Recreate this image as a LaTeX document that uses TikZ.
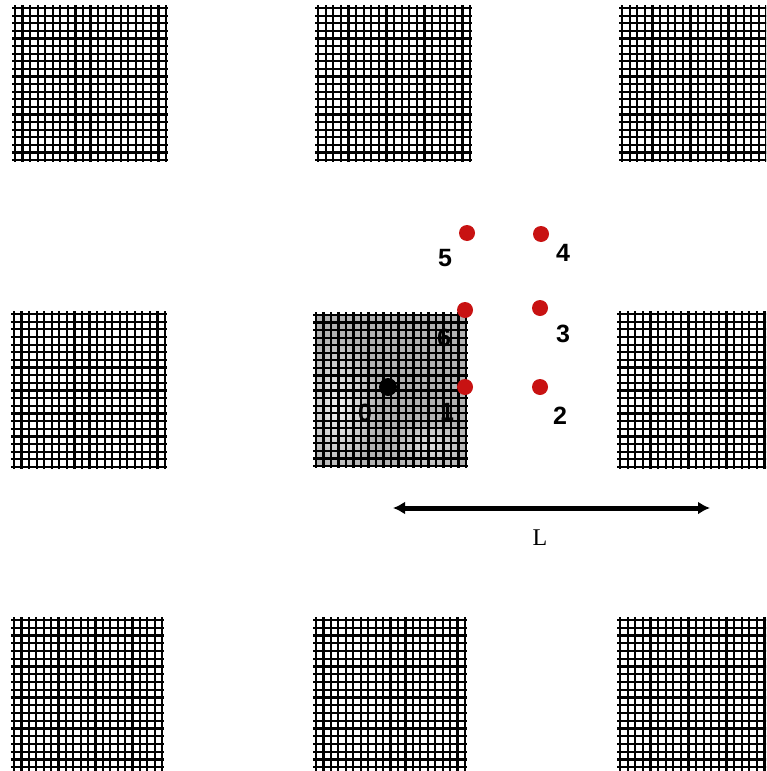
\documentclass[tikz,border=0pt]{standalone}
\usepackage{fontspec}
\setmainfont{Liberation Sans}
\newfontfamily\serifL{Liberation Serif}
\usetikzlibrary{arrows.meta}
\definecolor{dotred}{RGB}{200,18,18}
\tikzset{
  gridline/.style={line width=2.2pt, black},
  reddot/.style={circle, fill=dotred, inner sep=0pt, minimum size=16pt},
  blackdot/.style={circle, fill=black, inner sep=0pt, minimum size=18pt},
  numlabel/.style={font=\fontsize{25}{25}\selectfont\bfseries, inner sep=0pt, text=black},
}
\newcommand{\gridsq}[4]{%
  \foreach \i in {0,...,20} {
    \draw[gridline] ({#1+\i*(#3-#1)/20}, #2-3) -- ({#1+\i*(#3-#1)/20}, #4+2);
    \draw[gridline] (#1-3, {#2+\i*(#4-#2)/20}) -- (#3+2, {#2+\i*(#4-#2)/20});
  }%
}
\begin{document}
\begin{tikzpicture}[x=1pt,y=-1pt]
\useasboundingbox (0,0) rectangle (766,771);
\fill[white] (0,0) rectangle (766,771);
\begin{scope}
\clip (0,0) rectangle (766,771);
% shaded centre square background
\fill[gray!60] (316,315) rectangle (466,466);
\begin{scope}
\clip (316,315) rectangle (466,466);
\shade[inner color=gray!10, outer color=gray!60] (338,405) ellipse [x radius=40, y radius=70];
\shade[inner color=gray!25, outer color=gray!60] (430,445) ellipse [x radius=40, y radius=28];
\end{scope}
\gridsq{15}{8}{166}{160}
\gridsq{318}{8}{470}{160}
\gridsq{622}{8}{774}{160}
\gridsq{14}{314}{165}{467}
\gridsq{316}{315}{466}{466}
\gridsq{620}{314}{772}{467}
\gridsq{14}{620}{162}{775}
\gridsq{316}{620}{465}{775}
\gridsq{620}{620}{772}{775}
\end{scope}
% points
\node[blackdot] (p0) at (388,387) {};
\node[reddot] (p1) at (465,387) {};
\node[reddot] (p2) at (540,387) {};
\node[reddot] (p3) at (540,308) {};
\node[reddot] (p4) at (541,234) {};
\node[reddot] (p5) at (467,233) {};
\node[reddot] (p6) at (465,310) {};
% labels
\node[numlabel] (l0) at (365,413) {0};
\node[numlabel] (l1) at (447,412) {1};
\node[numlabel] (l2) at (560,416) {2};
\node[numlabel] (l3) at (563,334) {3};
\node[numlabel] (l4) at (563,253) {4};
\node[numlabel] (l5) at (445,258) {5};
\node[numlabel] (l6) at (444,338) {6};
% length arrow
\coordinate (aL) at (393,508);
\coordinate (aR) at (710,508);
\draw[line width=5pt, {Latex[length=12pt,width=13pt]}-{Latex[length=12pt,width=13pt]}] (aL) -- (aR);
\node[font=\serifL\fontsize{24}{24}\selectfont, inner sep=0pt] (Llab) at (540,538) {L};
\end{tikzpicture}
\end{document}
